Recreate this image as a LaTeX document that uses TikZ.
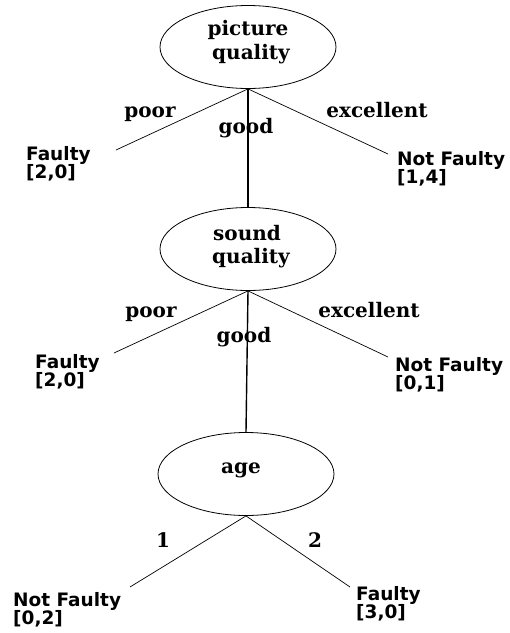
\documentclass[tikz,border=0pt]{standalone}
\usepackage{fontspec}
\setmainfont{DejaVu Serif}
\setsansfont{DejaVu Sans}
\usetikzlibrary{shapes.geometric}
\begin{document}
\begin{tikzpicture}[x=1pt,y=-1pt,
  dec/.style={draw, ellipse, line width=0.8pt, minimum width=176pt, minimum height=83pt, inner sep=0pt},
  ser/.style={font=\fontsize{20}{23}\selectfont\bfseries, inner sep=0pt, anchor=base},
  leaf/.style={font=\sffamily\bfseries\fontsize{18.5}{18.5}\selectfont, inner sep=0pt, anchor=north west, align=left},
  br/.style={line width=0.7pt},
  stem/.style={line width=1.4pt}]
\useasboundingbox (0,0) rectangle (510,633);
% decision nodes
\node[dec] (pq) at (248,47) {};
\node[dec] (sq) at (248,249) {};
\node[dec] (ag) at (246,474) {};
\node[ser] (pqa) at (248,35) {picture};
\node[ser] (pqb) at (251,59) {quality};
\node[ser] (sqa) at (247,240) {sound};
\node[ser] (sqb) at (251,263) {quality};
\node[ser] (aga) at (241,473) {age};
% branch end points
\coordinate (e1l) at (116,150);
\coordinate (e1r) at (388,154);
\coordinate (e2l) at (114,353);
\coordinate (e2r) at (388,357);
\coordinate (e3l) at (130,587);
\coordinate (e3r) at (350,587);
% connectors
\draw[br] (pq.south) -- (e1l);
\draw[br] (pq.south) -- (e1r);
\draw[stem] (pq.south) -- (sq.north);
\draw[br] (sq.south) -- (e2l);
\draw[br] (sq.south) -- (e2r);
\draw[stem] (sq.south) -- (ag.north);
\draw[br] (ag.south) -- (e3l);
\draw[br] (ag.south) -- (e3r);
% branch labels
\node[ser] (l1p) at (150,117) {poor};
\node[ser] (l1g) at (246,133) {good};
\node[ser] (l1e) at (377,117) {excellent};
\node[ser] (l2p) at (151,317) {poor};
\node[ser] (l2g) at (244,342) {good};
\node[ser] (l2e) at (369,317) {excellent};
\node[ser] (l31) at (163,547) {1};
\node[ser] (l32) at (315,547) {2};
% leaves
\node[leaf] (f1) at (26,146) {Faulty\\{[2,0]}};
\node[leaf] (n1) at (397,151) {Not Faulty\\{[1,4]}};
\node[leaf] (f2) at (35,354) {Faulty\\{[2,0]}};
\node[leaf] (n2) at (395,357) {Not Faulty\\{[0,1]}};
\node[leaf] (n3) at (13,592) {Not Faulty\\{[0,2]}};
\node[leaf] (f3) at (356,586) {Faulty\\{[3,0]}};
\end{tikzpicture}
\end{document}
